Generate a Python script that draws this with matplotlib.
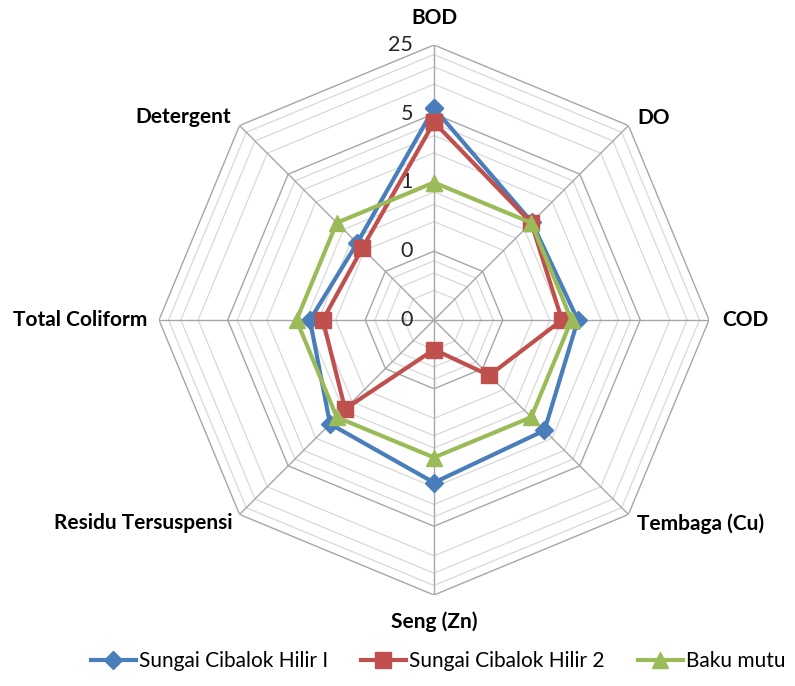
import matplotlib
matplotlib.use("Agg")
import matplotlib.pyplot as plt
import numpy as np

# Parameter (searah jarum jam mulai dari atas)
kategori = ["BOD", "DO", "COD", "Tembaga (Cu)", "Seng (Zn)",
            "Residu Tersuspensi", "Total Coliform", "Detergent"]

# Nilai terbaca dari grafik (skala log basis 5)
hilir_1 = [5.7, 1.02, 1.16, 1.55, 1.8, 1.25, 0.73, 0.51]
hilir_2 = [4.1, 1.0, 0.8, 0.25, 0.08, 0.76, 0.54, 0.43]
baku_mutu = [1.0, 1.0, 1.0, 1.0, 1.0, 1.0, 1.0, 1.0]

nama_seri = ["Sungai Cibalok Hilir I", "Sungai Cibalok Hilir 2", "Baku mutu"]
warna = ["#4A7EBB", "#C0504D", "#9BBB59"]
marker = ["D", "s", "^"]
ukuran_marker = [9, 11, 11]

tick_mayor = [0.04, 0.2, 1, 5, 25]
tick_minor = [m * t for t in tick_mayor[:-1] for m in (2, 3, 4)]

plt.rcParams['font.family'] = ['Lato', 'DejaVu Sans']

fig = plt.figure(figsize=(7.95, 6.86), dpi=100)
ax = fig.add_axes([159 / 795, 91 / 686, 550 / 795, 550 / 686], projection="polar")
ax.set_theta_zero_location("N")
ax.set_theta_direction(-1)
ax.set_rscale("log")
ax.set_rlim(0.04, 25)
ax.grid(False)
ax.spines["polar"].set_visible(False)
ax.set_xticks([])
ax.set_yticks([])
ax.patch.set_alpha(0)

n = len(kategori)
sudut = np.linspace(0, 2 * np.pi, n, endpoint=False)
sudut_tutup = np.append(sudut, sudut[0])

# Grid segi delapan
for v in tick_minor:
    ax.plot(sudut_tutup, [v] * (n + 1), color="#d9d9d9", lw=0.9, zorder=1)
for v in tick_mayor[1:]:
    ax.plot(sudut_tutup, [v] * (n + 1), color="#a6a6a6", lw=1.0, zorder=1)
for a in sudut:
    ax.plot([a, a], [0.04, 25], color="#a6a6a6", lw=1.0, zorder=1)

# Label sumbu radial
for v in tick_mayor:
    ax.annotate(f"{v:.0f}", xy=(0, v), xytext=(-21, 0), textcoords="offset pixels",
                ha="right", va="center", fontsize=15.5, color="#262626")

# Label kategori
offset = [(0, 27), (9, 8), (13, 0), (9, -9), (0, -27), (-7, -9), (-12, 0), (-9, 9)]
ha = ["center", "left", "left", "left", "center", "right", "right", "right"]
for a, teks, off, h in zip(sudut, kategori, offset, ha):
    ax.annotate(teks, xy=(a, 25), xytext=off, textcoords="offset pixels",
                ha=h, va="center", fontsize=15, fontweight="bold", color="black",
                annotation_clip=False)

# Seri data
for data, nama, c, m, ms in zip([hilir_1, hilir_2, baku_mutu], nama_seri, warna, marker, ukuran_marker):
    ax.plot(sudut_tutup, data + data[:1], color=c, lw=3, marker=m, ms=ms,
            label=nama, zorder=3, clip_on=False)

fig.legend(loc="center", bbox_to_anchor=(438 / 795, 1 - 661 / 686), ncol=3, frameon=False,
           fontsize=15, handlelength=2.15, handletextpad=0.15, columnspacing=1.6)

fig.savefig("out.png", dpi=100)
